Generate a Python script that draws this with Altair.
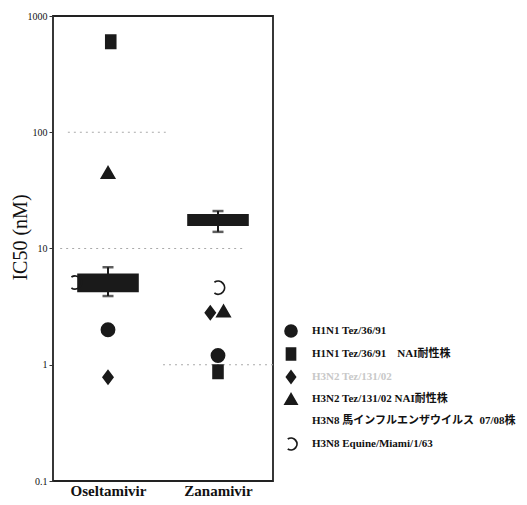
import altair as alt
import pandas as pd

# ---- data ----
drugs = ["Oseltamivir", "Zanamivir"]
drug_pos = [1, 3]

NB = "\u00a0"
strains = [
    "H1N1 Tez/36/91",
    "H1N1 Tez/36/91" + NB * 4 + "NAI耐性株",
    "H3N2 Tez/131/02",
    "H3N2 Tez/131/02 NAI耐性株",
    "H3N8 馬インフルエンザウイルス" + NB * 2 + "07/08株",
    "H3N8 Equine/Miami/1/63",
]

# individual strain points: strain index, drug index, small x offset, IC50 (nM)
pt_strain = [1, 3, 5, 0, 2, 5, 2, 3, 0, 1]
pt_drug = [0, 0, 0, 0, 0, 1, 1, 1, 1, 1]
pt_offset = [0.05, 0.0, -0.6, 0.0, 0.0, 0.0, -0.14, 0.1, 0.0, 0.0]
pt_value = [600, 45, 5.1, 2.0, 0.78, 4.6, 2.8, 2.9, 1.2, 0.87]

# 07/08 equine isolates: range box and error bar
box_low = [4.2, 15.6]
box_high = [6.1, 19.8]
err_low = [3.9, 13.9]
err_high = [6.9, 21.0]

# faint dotted reference lines
grid_y = [100, 10, 1]
grid_x1 = [0.27, 0.13, 2.0]
grid_x2 = [2.05, 3.5, 4.0]

# ---- tables ----
pts = pd.DataFrame({
    "strain": [strains[i] for i in pt_strain],
    "x": [drug_pos[d] + o for d, o in zip(pt_drug, pt_offset)],
    "ic50": pt_value,
})
box = pd.DataFrame({
    "x1": [p - 0.56 for p in drug_pos],
    "x2": [p + 0.56 for p in drug_pos],
    "x": drug_pos,
    "lo": box_low, "hi": box_high,
    "elo": err_low, "ehi": err_high,
})
grid = pd.DataFrame({"y": grid_y, "x1": grid_x1, "x2": grid_x2})

xscale = alt.Scale(domain=[0, 4], nice=False, zero=False)
yscale = alt.Scale(type="log", domain=[0.1, 1000], nice=False)

x_axis = alt.Axis(
    values=drug_pos, title=None, grid=False, ticks=False, domain=False,
    labelExpr="datum.value == 1 ? 'Oseltamivir' : 'Zanamivir'",
    labelFont="Liberation Serif", labelFontSize=15, labelFontWeight="bold",
    labelColor="#111", labelPadding=2,
)
y_axis = alt.Axis(
    values=[0.1, 1, 10, 100, 1000], grid=False, domain=False,
    title="IC50 (nM)", titleFont="Liberation Serif", titleFontSize=20,
    titleFontWeight="normal", titleColor="#111",
    titleX=-23, titleY=221, titleAngle=-90, titleAlign="center",
    titleBaseline="bottom",
    labelExpr="datum.value < 0.5 ? '0.1' : format(datum.value, 'd')",
    labelFont="Liberation Serif", labelFontSize=10, labelColor="#111",
    tickSize=4, tickColor="#333", labelPadding=2,
)

gridlines = alt.Chart(grid).mark_rule(
    color="#aaa", strokeDash=[2, 4], strokeWidth=1.2
).encode(
    x=alt.X("x1:Q", scale=xscale, axis=x_axis),
    x2="x2:Q",
    y=alt.Y("y:Q", scale=yscale, axis=y_axis),
)

boxes = alt.Chart(box).mark_rect(color="#1a1a1a").encode(
    x=alt.X("x1:Q", scale=xscale), x2="x2:Q",
    y=alt.Y("lo:Q", scale=yscale), y2="hi:Q",
)
err = alt.Chart(box).mark_rule(color="#1a1a1a", strokeWidth=2).encode(
    x=alt.X("x:Q", scale=xscale),
    y=alt.Y("elo:Q", scale=yscale), y2="ehi:Q",
)
cap_lo = alt.Chart(box).mark_tick(
    color="#1a1a1a", orient="horizontal", size=11, thickness=2.5
).encode(x=alt.X("x:Q", scale=xscale), y=alt.Y("elo:Q", scale=yscale))
cap_hi = alt.Chart(box).mark_tick(
    color="#1a1a1a", orient="horizontal", size=11, thickness=2.5
).encode(x=alt.X("x:Q", scale=xscale), y=alt.Y("ehi:Q", scale=yscale))

shape_range = [
    "circle",
    "M-0.75,-1L0.75,-1L0.75,1L-0.75,1Z",
    "M0,-1L0.75,0L0,1L-0.75,0Z",
    "triangle-up",
    "circle",
    "M-0.55,-0.83A1,1 0 1,1 -0.55,0.83",
]
fill_range = ["#1a1a1a", "#1a1a1a", "#1a1a1a", "#1a1a1a", "transparent", "transparent"]
stroke_range = ["#1a1a1a", "#1a1a1a", "#1a1a1a", "#1a1a1a", "transparent", "#1a1a1a"]

legend = alt.Legend(
    title=None, orient="none", legendX=231, legendY=308,
    symbolSize=140, symbolStrokeWidth=1.8,
    labelFont="Liberation Serif, Noto Sans CJK JP", labelFontSize=11,
    labelFontWeight="bold", labelLimit=300, rowPadding=3,
    labelOffset=14,
    labelColor=alt.ExprRef(
        "datum.label == 'H3N2 Tez/131/02' ? '#c8c8c8' : '#111'"
    ),
)

points = alt.Chart(pts).mark_point(
    size=170, strokeWidth=1.8, opacity=1, fillOpacity=1
).encode(
    x=alt.X("x:Q", scale=xscale),
    y=alt.Y("ic50:Q", scale=yscale),
    shape=alt.Shape("strain:N", scale=alt.Scale(domain=strains, range=shape_range),
                    legend=legend),
    fill=alt.Fill("strain:N", scale=alt.Scale(domain=strains, range=fill_range),
                  legend=legend),
    stroke=alt.Stroke("strain:N", scale=alt.Scale(domain=strains, range=stroke_range),
                      legend=legend),
)

chart = alt.layer(gridlines, boxes, err, cap_lo, cap_hi, points).properties(
    width=220, height=465,
    background="white",
    autosize=alt.AutoSizeParams(type="none"),
    padding={"left": 45, "top": 8, "right": 246, "bottom": 16},
).configure_view(
    stroke="#222", strokeWidth=1.8
)

chart.save("out.html", embed_options={"renderer": "svg", "actions": False})
